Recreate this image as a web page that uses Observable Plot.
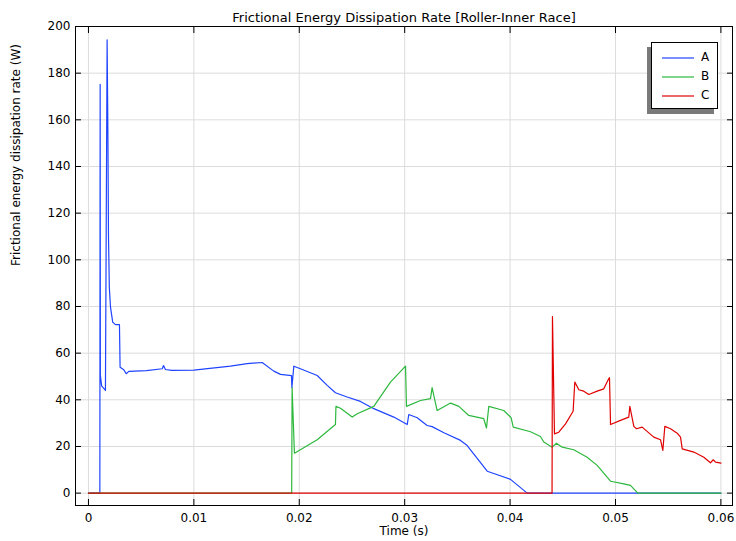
<!DOCTYPE html>
<html><head><meta charset="utf-8">
<script src="https://cdn.jsdelivr.net/npm/d3@7"></script>
<script src="https://cdn.jsdelivr.net/npm/@observablehq/plot@0.6"></script>
<style>
body{margin:0;background:#fff;}
#wrap{position:relative;width:736px;height:541px;font-family:"DejaVu Sans",sans-serif;}
#legend{position:absolute;left:651px;top:42px;width:65px;height:65px;border:1px solid #000;background:#fff;box-shadow:-4px 5px 0 #7a7a7a;font-size:12px;}
.row{position:absolute;left:0;height:14px;}
.row svg{position:absolute;left:10px;top:0;}
.row span{position:absolute;left:49px;top:-1px;line-height:14px;}
</style></head><body><div id="wrap"></div>
<script>
const titleText = "Frictional Energy Dissipation Rate [Roller-Inner Race]";
const xLabel = "Time (s)";
const yLabel = "Frictional energy dissipation rate (W)";
const seriesNames = ["A", "B", "C"];
const seriesColors = ["#1f44ff", "#2db83d", "#e00000"];
const xTicks = [0, 0.01, 0.02, 0.03, 0.04, 0.05, 0.06];
const xTickLabels = ["0", "0.01", "0.02", "0.03", "0.04", "0.05", "0.06"];
const yTicks = [0, 20, 40, 60, 80, 100, 120, 140, 160, 180, 200];

const timeA = [0,0.00108,0.00111,0.00113,0.00125,0.00161,0.00177,0.00185,0.0019,0.00198,0.00209,0.0023,0.00256,0.00294,0.0030,0.00335,0.00358,0.00383,0.0055,0.0070,0.00712,0.0073,0.0079,0.01,0.01347,0.01505,0.01648,0.01758,0.01822,0.01926,0.0193,0.01948,0.02011,0.0217,0.02265,0.02343,0.02454,0.0258,0.02707,0.02897,0.03024,0.03039,0.03119,0.03213,0.0326,0.03372,0.0353,0.03593,0.03783,0.04004,0.04162,0.06];
const valA = [0,0,175.2,50.4,46,44,194.3,150,110,88,79.7,73.3,72.2,72.2,54,52.9,51.2,52.2,52.5,53.3,54.7,53,52.6,52.7,54.4,55.5,56,52.3,50.9,50.4,45.2,54.4,53.3,50.4,46.2,43,41.2,39.3,36.2,32.6,29.4,33.7,32.3,29,28.5,25.9,22.6,20.4,9.4,5.9,0,0];

const timeB = [0,0.01928,0.01932,0.01954,0.0217,0.02343,0.02348,0.02391,0.02502,0.0255,0.02707,0.02865,0.03008,0.03017,0.0315,0.03245,0.0326,0.03308,0.03435,0.03514,0.03608,0.0375,0.03776,0.03798,0.0394,0.0401,0.0403,0.04194,0.04288,0.0432,0.04399,0.0444,0.04494,0.04604,0.04731,0.04826,0.04953,0.05079,0.05142,0.05212,0.06];
const valB = [0,0,45.2,17.1,22.9,29.4,37.2,36.4,32.6,34,37.2,47.6,54.4,37.2,39.7,40.5,45.2,35.4,38.6,37.2,33.3,31.9,27.9,37.2,35.4,32.3,28.3,26.3,24.3,21.9,19.7,21.4,19.7,18.6,15.4,11.9,5.1,4,3.3,0,0];

const timeC = [0,0.04398,0.04402,0.04421,0.04462,0.04526,0.04598,0.04614,0.04652,0.04699,0.04747,0.04826,0.04889,0.04927,0.04943,0.04953,0.05047,0.05126,0.05136,0.05174,0.05199,0.05253,0.05363,0.05427,0.05449,0.05468,0.05522,0.05585,0.05617,0.05633,0.05743,0.05838,0.05901,0.05927,0.05949,0.06];
const valC = [0,0,75.7,25.4,26.1,29.7,35.1,47.6,44.3,43.7,42.3,43.7,44.7,48.3,49.5,29.4,31.2,32.6,37.2,28.6,27.6,28.3,24,22.9,18.3,28.6,27.6,25.7,24,19,17.6,15.4,13,14.3,13.3,12.9];

const rows = [];
[[timeA, valA], [timeB, valB], [timeC, valC]].forEach(([ts, vs], k) => {
  ts.forEach((t, i) => rows.push({s: seriesNames[k], t, v: vs[i]}));
});

const fmtX = d => xTickLabels[xTicks.indexOf(d)];
const gridColor = "#dcdcdc";

const chart = Plot.plot({
  width: 736, height: 541,
  marginLeft: 75, marginRight: 4, marginTop: 26, marginBottom: 36,
  style: {fontFamily: "'DejaVu Sans', sans-serif", fontSize: "12px", background: "white", color: "black", overflow: "visible"},
  x: {domain: [-0.00123, 0.0611]},
  y: {domain: [-5.3, 200]},
  color: {domain: seriesNames, range: seriesColors},
  marks: [
    Plot.gridX(xTicks, {stroke: gridColor, strokeOpacity: 1}),
    Plot.gridY(yTicks, {stroke: gridColor, strokeOpacity: 1}),
    Plot.line(rows, {x: "t", y: "v", z: "s", stroke: "s", strokeWidth: 1.2}),
    Plot.frame({stroke: "black"}),
    Plot.axisX(xTicks, {anchor: "bottom", tickSize: 0, tickPadding: 8, tickFormat: fmtX, label: null, fontSize: 12}),
    Plot.axisX(xTicks, {anchor: "bottom", tickSize: -6, tickFormat: () => "", label: null}),
    Plot.axisX(xTicks, {anchor: "top", tickSize: -6, tickFormat: () => "", label: null}),
    Plot.axisY(yTicks, {anchor: "left", tickSize: 0, tickPadding: 5, label: null, fontSize: 12}),
    Plot.axisY(yTicks, {anchor: "left", tickSize: -6, tickFormat: () => "", label: null}),
    Plot.axisY(yTicks, {anchor: "right", tickSize: -6, tickFormat: () => "", label: null}),
    Plot.text([titleText], {frameAnchor: "top", dy: -14, fontSize: 13}),
    Plot.text([xLabel], {frameAnchor: "bottom", dy: 29, fontSize: 12}),
    Plot.text([yLabel], {frameAnchor: "left", dx: -59, rotate: -90, fontSize: 12})
  ]
});

const wrap = document.getElementById("wrap");
wrap.appendChild(chart);
const legend = document.createElement("div");
legend.id = "legend";
const rowTops = [8, 27, 46];
seriesNames.forEach((name, i) => {
  const r = document.createElement("div");
  r.className = "row";
  r.style.top = rowTops[i] + "px";
  r.innerHTML = `<svg width="32" height="14"><line x1="0" x2="32" y1="7" y2="7" stroke="${seriesColors[i]}" stroke-width="1.2"/></svg><span>${name}</span>`;
  legend.appendChild(r);
});
wrap.appendChild(legend);
</script></body></html>
